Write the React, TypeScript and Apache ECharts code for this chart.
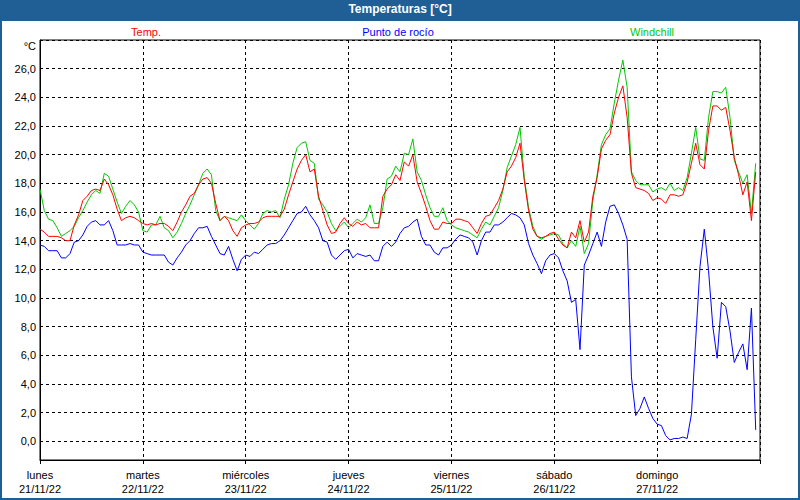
import React, { useEffect, useRef } from 'react';
import * as echarts from 'echarts';

const dayNames = ['lunes', 'martes', 'miércoles', 'jueves', 'viernes', 'sábado', 'domingo'];
const dayDates = ['21/11/22', '22/11/22', '23/11/22', '24/11/22', '25/11/22', '26/11/22', '27/11/22'];

// hourly readings, 21/11/22 00:00 onwards
const temp = [
  14.8, 14.6, 14.3, 14.3, 14.3, 14.2, 14.0, 14.0, 15.1, 15.8, 16.8, 17.1,
  17.5, 17.6, 17.5, 18.3, 17.9, 17.2, 16.2, 15.4, 15.6, 15.7, 15.6, 15.4,
  15.2, 15.1, 15.2, 15.1, 15.2, 15.2, 15.0, 14.7, 15.3, 16.0, 16.5, 17.1,
  17.3, 17.9, 18.3, 18.4, 18.0, 16.6, 15.4, 15.7, 15.4, 14.7, 14.3, 14.9,
  15.1, 15.2, 15.2, 15.3, 15.6, 15.7, 15.7, 15.7, 15.7, 16.2, 17.2, 18.1,
  19.0, 19.6, 20.0, 18.8, 19.0, 17.1, 16.1, 15.1, 14.5, 14.6, 15.2, 15.6,
  15.2, 15.0, 15.3, 15.1, 15.2, 14.9, 14.9, 14.9, 17.1, 17.6, 17.9, 18.6,
  18.2, 19.5, 19.2, 20.0, 18.1, 17.3, 16.4, 15.4, 14.8, 14.8, 15.3, 15.2,
  15.2, 15.5, 15.5, 15.4, 15.3, 14.9, 14.5, 15.2, 15.7, 15.8, 16.3, 16.8,
  17.6, 18.8, 19.2, 19.8, 20.8, 18.2, 16.1, 14.8, 14.3, 14.2, 14.3, 14.5,
  14.6, 14.1, 13.7, 13.5, 14.6, 14.2, 15.4, 13.9, 14.6, 17.1, 18.4, 20.4,
  21.0, 21.4, 22.9, 24.0, 24.8, 22.6, 18.7, 17.7, 17.6, 17.5, 17.3, 16.8,
  17.0, 16.9, 16.6, 17.2, 17.2, 17.1, 17.2, 18.1, 19.4, 20.8, 19.3, 19.0,
  21.7, 23.4, 23.4, 23.1, 23.3, 21.7, 19.8, 18.6, 17.2, 18.1, 15.4, 18.8,
];

const dewPoint = [
  13.7, 13.6, 13.3, 13.3, 13.3, 12.8, 12.8, 13.1, 13.9, 14.0, 14.4, 15.0,
  15.3, 15.4, 15.1, 15.1, 15.4, 14.7, 13.7, 13.7, 13.7, 13.8, 13.7, 13.7,
  13.2, 13.1, 13.0, 13.0, 13.0, 13.0, 12.5, 12.3, 12.8, 13.2, 13.7, 14.0,
  14.5, 14.9, 14.9, 15.0, 14.3, 13.7, 13.1, 13.0, 13.6, 12.7, 11.9, 12.7,
  13.0, 12.9, 13.2, 13.1, 13.4, 13.7, 13.8, 13.8, 14.0, 14.4, 14.9, 15.4,
  15.9, 16.0, 16.4, 15.8, 15.4, 14.9, 14.0, 13.9, 13.0, 12.7, 13.0, 13.3,
  13.4, 12.8, 13.1, 13.0, 12.9, 13.0, 12.6, 12.6, 13.6, 13.9, 13.6, 13.9,
  14.5, 14.9, 15.0, 15.3, 15.5, 14.3, 13.7, 13.7, 13.2, 13.0, 13.5, 13.5,
  13.7, 14.1, 14.4, 14.3, 14.2, 13.9, 13.0, 14.0, 14.6, 14.6, 15.1, 15.1,
  15.3, 15.6, 15.9, 15.8, 15.6, 15.1, 13.8, 13.0, 12.4, 11.7, 12.6, 13.0,
  13.1, 12.8, 11.9, 11.2, 9.7, 9.9, 6.4, 12.3, 13.0, 13.8, 14.6, 13.6,
  15.3, 16.4, 16.5, 15.9, 15.1, 14.1, 4.5, 1.8, 2.3, 3.1, 2.3, 1.6,
  1.2, 1.1, 0.4, 0.1, 0.2, 0.2, 0.3, 0.2, 1.9, 7.1, 12.2, 14.8,
  11.9, 8.0, 5.8, 9.7, 9.4, 7.7, 5.5, 6.2, 6.8, 5.0, 9.3, 0.8,
];

const windchill = [
  17.6, 16.1, 15.5, 15.4, 14.9, 14.3, 14.5, 14.7, 15.0, 15.6, 16.1, 16.7,
  17.2, 17.5, 17.3, 18.7, 18.5, 17.6, 16.7, 15.9, 16.4, 16.8, 16.5, 16.0,
  14.7, 14.6, 15.1, 15.1, 15.7, 14.9, 14.7, 14.2, 14.6, 15.2, 15.9, 16.5,
  17.2, 17.9, 18.7, 19.0, 18.6, 16.1, 15.4, 15.7, 15.6, 15.5, 15.4, 15.8,
  15.4, 15.1, 14.8, 15.2, 15.9, 16.1, 16.0, 16.1, 15.6, 16.9, 17.9, 19.4,
  20.5, 20.8, 20.9, 19.6, 19.4, 16.9, 16.5, 16.0, 15.2, 14.7, 15.0, 15.3,
  14.9, 15.2, 15.5, 15.3, 15.6, 16.5, 15.2, 15.2, 16.3, 18.3, 18.5, 19.2,
  18.8, 20.1, 20.0, 21.1, 18.8, 18.2, 17.2, 16.3, 15.7, 15.7, 16.3, 15.4,
  15.1, 14.9, 14.8, 14.7, 14.6, 14.4, 14.2, 14.8, 15.3, 15.1, 15.7, 16.3,
  17.5, 19.1, 19.9, 20.7, 21.9, 18.4, 16.3, 15.0, 14.3, 14.1, 14.3, 14.4,
  14.5, 14.4, 13.8, 13.5, 14.0, 13.6, 15.0, 13.1, 13.8, 16.8, 18.6, 20.7,
  21.4, 21.8, 23.6, 25.2, 26.6, 24.7, 18.8, 18.2, 17.9, 17.9, 17.9, 17.4,
  17.6, 17.7, 17.5, 18.0, 17.5, 17.7, 17.5, 18.4, 20.1, 21.9, 19.7, 19.6,
  22.6, 24.4, 24.4, 24.3, 24.7, 22.6, 19.6, 18.8, 18.0, 18.6, 15.9, 19.4,
];

const FONT = '"Liberation Sans", Arial, sans-serif';
const FRAME = '#1f5f96';

export default function App() {
  const ref = useRef<HTMLDivElement>(null);

  useEffect(() => {
    if (!ref.current) return;
    const chart = echarts.init(ref.current, null, { renderer: 'svg' });
    const toPairs = (arr: number[]) => arr.map((v, i) => [i, v]);
    chart.setOption({
      animation: false,
      backgroundColor: '#ffffff',
      textStyle: { fontFamily: FONT },
      title: {
        text: 'Temperaturas [°C]',
        left: 'center',
        top: 3,
        padding: 0,
        textStyle: { color: '#ffffff', fontSize: 12, fontWeight: 'bold', fontFamily: FONT },
      },
      graphic: [
        { type: 'rect', z: 0, shape: { x: 0, y: 0, width: 800, height: 21 }, style: { fill: FRAME } },
        { type: 'rect', z: 0, shape: { x: 1, y: 1, width: 798, height: 498 }, style: { fill: 'none', stroke: FRAME, lineWidth: 2 } },
        { type: 'text', x: 146, y: 32, style: { text: 'Temp.', fill: '#ff0000', fontSize: 11, fontFamily: FONT, align: 'center', verticalAlign: 'middle' } },
        { type: 'text', x: 398, y: 32, style: { text: 'Punto de rocío', fill: '#0000ff', fontSize: 11, fontFamily: FONT, align: 'center', verticalAlign: 'middle' } },
        { type: 'text', x: 652, y: 32, style: { text: 'Windchill', fill: '#00c800', fontSize: 11, fontFamily: FONT, align: 'center', verticalAlign: 'middle' } },
      ],
      grid: { left: 40, right: 40, top: 40, bottom: 40, show: true, borderColor: '#000', borderWidth: 1 },
      xAxis: {
        type: 'value',
        min: 0,
        max: 168,
        interval: 24,
        axisLine: { show: true, onZero: false, lineStyle: { color: '#000', width: 1 } },
        axisTick: { show: true, length: 4, lineStyle: { color: '#000' } },
        axisLabel: {
          color: '#000',
          fontSize: 11,
          fontFamily: FONT,
          lineHeight: 14,
          margin: 8,
          formatter: (v: number) => {
            const i = Math.round(v / 24);
            return i < dayNames.length ? dayNames[i] + '\n' + dayDates[i] : '';
          },
        },
        splitLine: { show: true, lineStyle: { color: '#000', type: [3, 3], width: 1 } },
      },
      yAxis: {
        type: 'value',
        min: -1.3,
        max: 28,
        splitNumber: 14,
        minInterval: 2,
        maxInterval: 2,
        name: '°C',
        nameLocation: 'end',
        nameGap: -6,
        nameTextStyle: { color: '#000', fontSize: 11, fontFamily: FONT, align: 'right', verticalAlign: 'middle', padding: [0, 4, 0, 0] },
        axisLine: { show: true, lineStyle: { color: '#000' } },
        axisTick: { show: false },
        axisLabel: {
          color: '#000',
          fontSize: 11,
          fontFamily: FONT,
          margin: 4,
          showMinLabel: false,
          showMaxLabel: false,
          formatter: (v: number) => (v < 0 || v > 26.5 ? '' : v.toFixed(1).replace('.', ',')),
        },
        splitLine: { show: true, lineStyle: { color: '#000', type: [3, 3], width: 1 } },
      },
      series: [
        { name: 'Punto de rocío', type: 'line', data: toPairs(dewPoint), showSymbol: false, symbol: 'none', lineStyle: { color: '#0000ff', width: 1 }, itemStyle: { color: '#0000ff' } },
        { name: 'Windchill', type: 'line', data: toPairs(windchill), showSymbol: false, symbol: 'none', lineStyle: { color: '#00c800', width: 1 }, itemStyle: { color: '#00c800' } },
        { name: 'Temp.', type: 'line', data: toPairs(temp), showSymbol: false, symbol: 'none', lineStyle: { color: '#ff0000', width: 1 }, itemStyle: { color: '#ff0000' } },
      ],
    });
    return () => chart.dispose();
  }, []);

  return <div ref={ref} style={{ position: 'fixed', left: 0, top: 0, width: 800, height: 500 }} />;
}
